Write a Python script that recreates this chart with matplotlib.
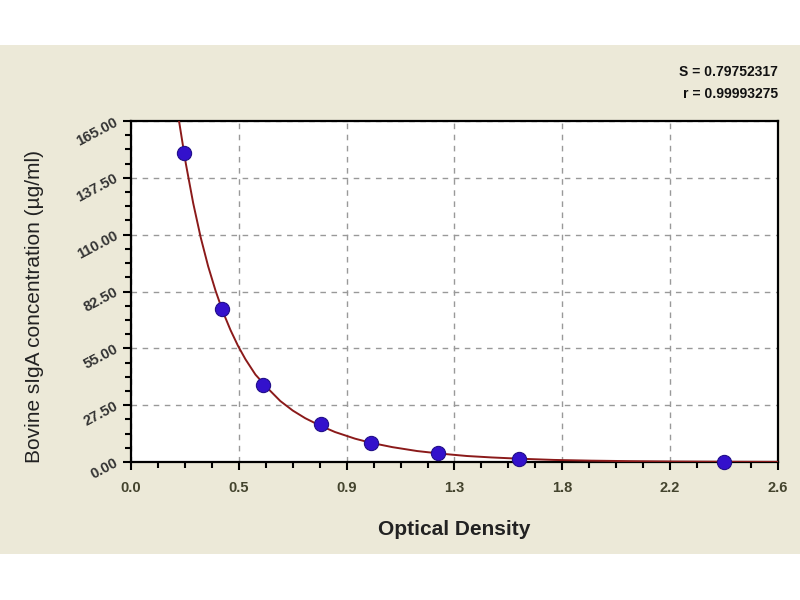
import matplotlib
matplotlib.use('Agg')
import matplotlib.pyplot as plt
from matplotlib.patches import Rectangle
from matplotlib.ticker import MultipleLocator, FixedLocator

plt.rcParams['font.family'] = ['Liberation Sans', 'DejaVu Sans']

# standard points
od = [0.213, 0.366, 0.530, 0.764, 0.964, 1.234, 1.560, 2.383]
conc = [149.4, 73.9, 37.3, 18.4, 9.0, 4.5, 1.3, 0.1]

# fitted curve
curve_od = [0.193, 0.22, 0.25, 0.28, 0.31, 0.34, 0.37, 0.40, 0.43, 0.46,
            0.50, 0.55, 0.60, 0.65, 0.70, 0.76, 0.82, 0.90, 0.96, 1.05,
            1.15, 1.24, 1.35, 1.45, 1.56, 1.70, 1.85, 2.00, 2.20, 2.40, 2.60]
curve_conc = [165.0, 144.6, 125.2, 108.7, 94.7, 82.8, 72.5, 63.8, 56.2, 49.7,
              42.3, 35.6, 29.5, 24.9, 21.2, 17.6, 14.5, 11.3, 9.4, 7.2,
              5.3, 4.1, 2.9, 2.2, 1.6, 1.0, 0.65, 0.42, 0.23, 0.13, 0.07]

x_labels = ['0.0', '0.5', '0.9', '1.3', '1.8', '2.2', '2.6']
y_ticks = [0, 27.5, 55, 82.5, 110, 137.5, 165]
stats_text = 'S = 0.79752317\nr = 0.99993275'

fig = plt.figure(figsize=(8, 6), dpi=100, facecolor='#ECE9D8')
# white bands above and below the panel
fig.patches.append(Rectangle((0, 1 - 45 / 600), 1, 45 / 600, transform=fig.transFigure,
                             facecolor='white', edgecolor='none'))
fig.patches.append(Rectangle((0, 0), 1, 46 / 600, transform=fig.transFigure,
                             facecolor='white', edgecolor='none'))

ax = fig.add_axes([131 / 800, 1 - 462 / 600, 647 / 800, 341 / 600])
ax.set_facecolor('white')

ax.plot(curve_od, curve_conc, color='#8B1A1A', lw=1.4, zorder=3, clip_on=True)
ax.scatter(od, conc, s=105, color='#3311CC', edgecolors='#22108A', linewidths=0.8,
           zorder=4, clip_on=False)

ax.set_xlim(0, 2.6)
ax.set_ylim(0, 165)

xt = [2.6 / 6 * i for i in range(7)]
ax.xaxis.set_major_locator(FixedLocator(xt))
ax.xaxis.set_minor_locator(MultipleLocator(2.6 / 24))
ax.set_xticklabels(x_labels, fontsize=10.5, fontweight='bold', color='#44442e')
ax.yaxis.set_major_locator(FixedLocator(y_ticks))
ax.yaxis.set_minor_locator(MultipleLocator(27.5 / 4))
ax.set_yticklabels(['%.2f' % v for v in y_ticks], fontsize=10.5, fontweight='bold',
                   color='#333333', rotation=28, ha='right', va='center',
                   rotation_mode='anchor')

ax.tick_params(which='major', direction='out', length=6, width=1.5, pad=4)
ax.tick_params(axis='x', which='major', pad=8)
ax.tick_params(which='minor', direction='out', length=4, width=1.5)

for s in ax.spines.values():
    s.set_linewidth(1.6)
    s.set_color('black')

ax.grid(True, which='major', linestyle=(0, (4, 4)), color='#999999', lw=1.0)
ax.set_axisbelow(True)

ax.set_xlabel('Optical Density', fontsize=15, fontweight='bold', color='#222222',
              labelpad=18)
ax.set_ylabel('Bovine sIgA concentration (\u00b5g/ml)', fontsize=15, color='#222222')
ax.yaxis.set_label_coords(-0.134, 0.455)

fig.text(778 / 800, 1 - 83 / 600, stats_text, ha='right', va='center', fontsize=10,
         fontweight='bold', color='#111111', linespacing=1.8)

fig.savefig('out.png', dpi=100, facecolor=fig.get_facecolor())
